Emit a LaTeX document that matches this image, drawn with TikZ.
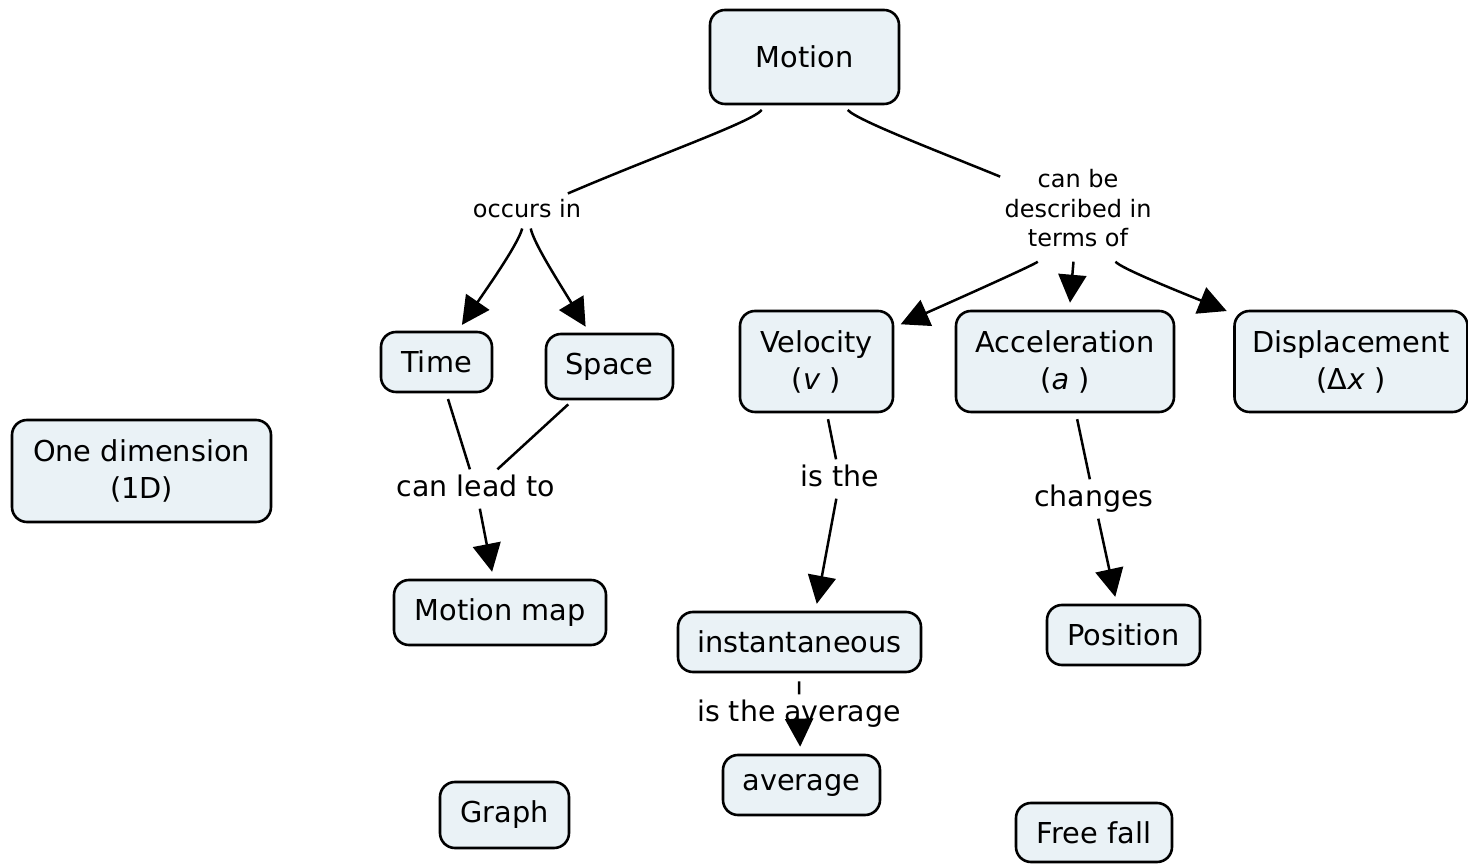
\documentclass[tikz,border=0pt]{standalone}
\usepackage{fontspec}
\setmainfont{DejaVu Sans}
\usetikzlibrary{arrows.meta}
\definecolor{conceptfill}{RGB}{234,242,246}
\begin{document}
\begin{tikzpicture}[>={Triangle[length=14bp,width=14bp]},line join=bevel,
  concept/.style={draw=black,line width=1.3bp,fill=conceptfill,rounded corners=7.5bp,align=center,font=\fontsize{14.4bp}{18.5bp}\selectfont},
  linkphrase/.style={draw=none,inner sep=2.5bp,text depth=3.5bp,font=\fontsize{14.2bp}{17bp}\selectfont},
  connector/.style={black,line width=1.25bp},
  tolink/.style={connector,shorten <=3bp},
  toconcept/.style={connector,->,shorten >=3.5bp},
  ]
\useasboundingbox (0bp,0bp) rectangle (734bp,432bp);
%%
\node (node_0) at (402.25bp,403.5bp) [concept,minimum width=94.5bp,minimum height=47bp] {Motion};
  \node (node_1) at (218.25bp,251bp) [concept,minimum width=55.5bp,minimum height=30bp] {Time};
  \node (node_2) at (304.75bp,248.75bp) [concept,minimum width=63.5bp,minimum height=32.5bp] {Space};
  \node (node_3) at (408.25bp,251.25bp) [concept,minimum width=76.5bp,minimum height=50.5bp] {Velocity\\(\textit{v} )};
  \node (node_4) at (532.5bp,251.25bp) [concept,minimum width=109bp,minimum height=50.5bp] {Acceleration\\(\textit{a} )};
  \node (node_5) at (675.5bp,251.25bp) [concept,minimum width=116.5bp,minimum height=50.5bp] {Displacement\\(Δ\textit{x} )};
  \node (node_6) at (70.75bp,196.5bp) [concept,minimum width=129.5bp,minimum height=51bp] {One dimension\\(1D)};
  \node (node_7) at (250bp,125.75bp) [concept,minimum width=106bp,minimum height=32.5bp] {Motion map};
  \node (node_8) at (399.75bp,111bp) [concept,minimum width=121.5bp,minimum height=30bp] {instantaneous};
  \node (node_9) at (561.75bp,114.5bp) [concept,minimum width=76.5bp,minimum height=30bp] {Position};
  \node (node_10) at (400.75bp,39.5bp) [concept,minimum width=78.5bp,minimum height=30bp] {average};
  \node (node_11) at (252.25bp,24.5bp) [concept,minimum width=64.5bp,minimum height=33bp] {Graph};
  \node (node_12) at (547bp,15.75bp) [concept,minimum width=78bp,minimum height=29.5bp] {Free fall};
%
\node (node_13) at (263.5bp,326.5bp) [linkphrase,text depth=3bp,font=\fontsize{12bp}{14.75bp}\selectfont] {occurs in};
  \node (node_14) at (539bp,327.75bp) [draw=none,align=center,inner xsep=2bp,inner ysep=7bp,font=\fontsize{12bp}{14.75bp}\selectfont] {can be\\described in\\terms of};
  \node (node_15) at (238bp,187.5bp) [linkphrase] {can lead to};
  \node (node_16) at (420bp,192.5bp) [linkphrase] {is the};
  \node (node_17) at (547bp,182.5bp) [linkphrase] {changes};
  \node (node_18) at (399.5bp,75bp) [linkphrase] {is the average};
%
\draw [tolink] (node_0) ..controls (376bp,371bp) and (330bp,355bp) .. (node_13);
  \draw [tolink] (node_0) ..controls (428bp,372bp) and (470bp,356bp) .. (node_14);
  \draw [toconcept] (node_13) ..controls (259bp,310bp) and (245bp,290bp) .. (node_1);
  \draw [toconcept] (node_13) ..controls (267bp,310bp) and (280bp,290bp) .. (node_2);
  \draw [toconcept] (node_14) ..controls (518bp,300bp) and (480bp,283bp) .. (node_3);
  \draw [toconcept] (node_14) -- (node_4);
  \draw [toconcept] (node_14) ..controls (560bp,298bp) and (590bp,286bp) .. (node_5);
  \draw [tolink] (node_1) -- (node_15);
  \draw [tolink] (node_2) -- (node_15);
  \draw [toconcept] (node_15) -- (node_7);
  \draw [tolink] (node_3) -- (node_16);
  \draw [toconcept] (node_16) -- ([xshift=8bp]node_8.north);
  \draw [tolink] (node_4) -- (node_17);
  \draw [toconcept] (node_17) -- (node_9);
  \draw [tolink,shorten <=4bp] (node_8) -- (node_18);
  \draw [toconcept] (node_18) -- (node_10);
%
\end{tikzpicture}
\end{document}
